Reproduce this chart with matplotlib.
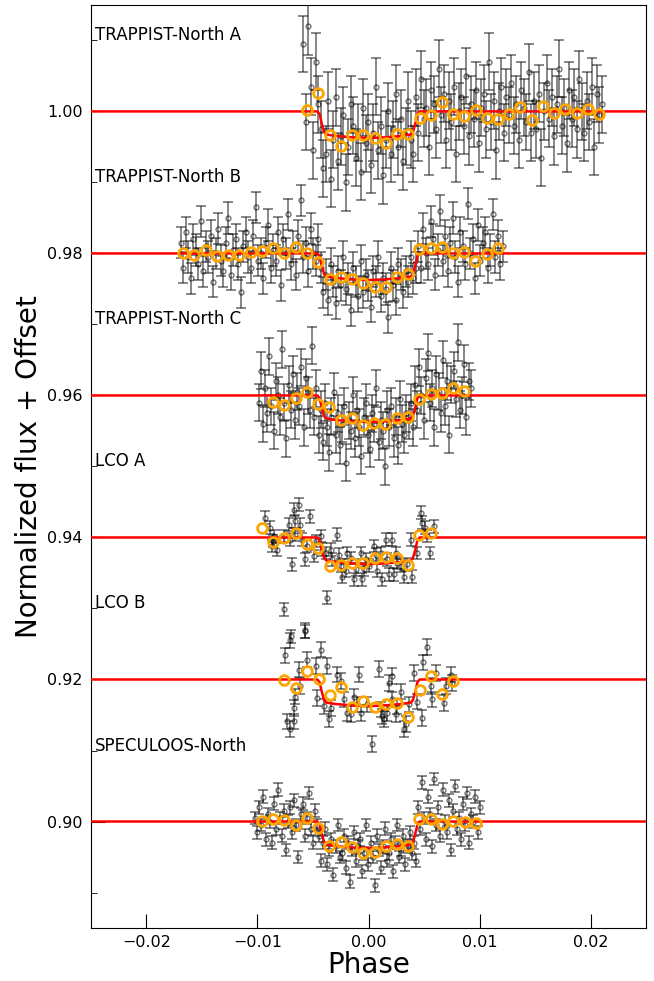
import numpy as np
import matplotlib.pyplot as plt
from matplotlib.ticker import MultipleLocator

# flux values are in ppt relative to each light curve's offset
offsets = [1.00, 0.98, 0.96, 0.94, 0.92, 0.90]
names = ["TRAPPIST-North A", "TRAPPIST-North B", "TRAPPIST-North C",
         "LCO A", "LCO B", "SPECULOOS-North"]

# --- raw photometry ---
tna_range = (-0.0059, 0.0210)
tna_flux = [9.5, -1.5, 12.0, 3.5, -5.5, 7.0, 1.0,
            -2.5, -8.0, -6.0, 1.5, -9.5, -4.0, 2.0, -7.0, -3.5, -0.5, -10.0, -5.0, 1.0, -2.0, -6.5, -3.0, -8.5,
            0.5, -4.5, -1.5, -7.5, -3.0, 3.5, -5.5, -2.0, -9.0, -4.0, 0.0, -6.0, -2.5, 2.5, -5.0, -1.0, -7.0,
            -3.5, 1.5, -4.0, -6.0,
            2.0, -3.0, 4.5, -1.0, 0.5, -5.0, 3.0, 1.0, -2.5, 6.0, -0.5, 2.5, -4.0, 1.5, -1.5, 3.5, -6.0, 0.0, 2.0, -2.0,
            5.0, -3.5, 1.0, -1.0, 3.0, -4.5, 0.5, 2.5, -2.5, 7.0, -1.5, 1.5, -5.5, 0.0, 3.5, -3.0, 2.0, -0.5, 4.0, -2.0,
            1.0, -4.0, 3.0, 0.5, -1.5, 5.5, -3.0, 1.5, -2.5, 2.5, -6.5, 0.0, 4.0, -1.0, 2.0, -3.5, 1.0, 6.0, -2.0, 0.5,
            -4.5, 3.0, -1.0, 2.0, -2.5, 4.5, 0.0, -3.0, 1.5, -1.5, 3.5, -5.0, 2.5, -0.5, 1.0]
tna_err = 4.0

tnb_range = (-0.0169, 0.0121)
tnb_flux = [1.5, -2.0, 3.0, -0.5, -3.5, 2.0, 0.5, -1.5, 4.5, -2.5, 1.0, -0.5, 2.5, -4.0, 0.0, 3.5, -1.0, -2.5, 1.5, 5.0,
            -3.0, 0.5, 2.0, -1.5, -5.5, 1.0, 3.0, -0.5, -2.0, 2.5, 6.5, -1.0, 0.0, -3.5, 1.5, 4.0, -2.0, 0.5, -1.0, 3.0,
            -4.5, 2.0, 0.0, 5.5, -1.5, 1.0, -3.0, 2.5, 7.5, -0.5, 1.5, -2.5, 3.5, 0.0, -1.0, 2.0,
            -2.0, -5.5, -3.0, -6.5, -1.5, -4.0, -7.0, -2.5, -4.5, -0.5, -5.0, -3.5, -8.0, -2.0, -4.0, -6.0, -1.0, -5.5,
            -3.0, -4.5, -7.5, -2.5, -4.0, -0.5, -6.0, -3.5, -5.0, -9.0, -2.0, -4.5, -6.5, -1.5, -3.0, -5.5, -2.5, -4.0,
            -0.5, -3.5, -2.0,
            1.0, -2.0, 3.5, 0.0, -1.5, 4.5, 2.0, -3.0, 0.5, 6.0, -1.0, 2.5, -2.5, 1.5, 5.0, -0.5, -4.0, 3.0, 1.0, -1.5,
            7.0, 0.0, 2.0, -3.5, 4.0, -1.0, 1.5, 3.0, -2.0, 0.5, 5.5, -0.5, 2.5, -1.5, 1.0]
tnb_err = 2.2

tnc_range = (-0.0099, 0.0092)
tnc_flux = [-1.0, 3.5, -4.0, 1.0, -2.5, 5.5, -1.5, -5.0, 2.0, 0.0, -3.0, 6.5, -1.0, -6.0, 1.5, -2.0, 3.0, -3.5, 0.5,
            -1.5, 4.0, -4.5, 2.5, 0.0, -2.0, 7.0, -3.0, 1.0, -5.5,
            -2.0, -6.5, -1.0, -4.5, -8.0, -3.0, 0.5, -5.5, -2.5, -7.0, -4.0, -1.5, -9.5, -3.5, -5.0, 0.0, -6.0, -2.0,
            -4.5, -8.5, -3.0, -1.0, -5.5, -7.5, -2.5, -4.0, 1.0, -6.5, -3.5, -5.0, -10.0, -2.0, -4.5, -1.5, -6.0, -3.0,
            -7.0, -0.5, -4.0, -5.5, -2.5, -3.5, -1.0, -4.5,
            1.5, -2.0, 4.0, 0.0, -3.5, 2.5, 6.0, -1.0, 1.0, -4.5, 3.0, 0.5, -2.5, 5.0, -1.5, 2.0, -5.5, 1.5, 3.5, -0.5,
            7.5, -2.0, 0.0, 4.5, -3.0, 2.0, 1.0]
tnc_err = 2.6

lcoa_phase = [-0.00928, -0.00883, -0.00868, -0.00859, -0.00853, -0.00823, -0.00763, -0.00763, -0.00718, -0.00703,
              -0.00697, -0.00688, -0.00673, -0.00658, -0.00658, -0.00628, -0.00613, -0.00598, -0.00568, -0.00568,
              -0.00553, -0.00523, -0.00493, -0.00477, -0.00432, -0.00417, -0.00387, -0.00378, -0.00342, -0.00327,
              -0.00282, -0.00267, -0.00252, -0.00237, -0.00207, -0.00192, -0.00162, -0.00132, -0.00117, -0.00072,
              -0.00057, -0.00042, -0.00027, 0.00003, 0.00048, 0.00063, 0.00078, 0.00108, 0.00123, 0.00153,
              0.00168, 0.00183, 0.00213, 0.00228, 0.00243, 0.00258, 0.00288, 0.00318, 0.00348, 0.00378,
              0.00393, 0.00438, 0.00468, 0.00483, 0.00513, 0.00528, 0.00558, 0.00588]
lcoa_flux = [2.8, 1.4, -1.2, -0.5, 0.2, -1.7, -10.1, 0.2, 1.8, -0.3,
             -13.9, -3.8, 3.9, 2.3, 0.4, 4.6, 1.8, -0.3, -13.2, -3.1,
             -1.2, 3.0, -2.6, -0.5, 0.2, -1.7, -2.2, -8.5, -1.7, -3.1,
             0.4, -2.4, -4.0, -5.5, -4.7, -2.2, -2.9, -5.9, -4.5, -2.2,
             -5.9, -4.5, -3.1, -4.0, -1.2, -2.4, -4.7, -2.2, -5.9, -0.3,
             -3.1, -5.2, -0.3, -5.2, -2.2, -3.6, -4.0, -5.5, -3.8, -0.3,
             -5.5, -2.2, 3.5, 2.1, 1.4, 0.2, -2.2, 1.6]
lcoa_err = 0.9

lcob_phase = [-0.00748, -0.00732, -0.00709, -0.00703, -0.00673, -0.00673, -0.00658, -0.00628, -0.00613, -0.00568,
              -0.00552, -0.00477, -0.00462, -0.00426, -0.00403, -0.00372, -0.00358, -0.00342, -0.00282, -0.00252,
              -0.00223, -0.00192, -0.00162, -0.00132, -0.00102, -0.00087, -0.00072, -0.00012, 0.00027, 0.00093,
              0.00108, 0.00123, 0.00138, 0.00168, 0.00183, 0.00214, 0.00214, 0.00243, 0.00258, 0.00288,
              0.00318, 0.00333, 0.00363, 0.00408, 0.00439, 0.00484, 0.00493, 0.00523, 0.00559, 0.00574,
              0.00604, 0.00678, 0.00694, 0.00739, 0.00754]
lcob_flux = [3.4, -5.9, -7.0, 5.5, -4.0, -5.9, -2.4, 1.4, -0.9, 6.9,
             2.8, 1.9, -2.6, 4.2, -3.8, 1.9, -5.6, -4.0, 0.7, -0.2,
             -2.8, -4.7, -4.9, -2.4, -3.5, 0.7, -4.7, -3.5, -9.1, 1.5,
             -4.2, -5.2, -5.6, -4.7, -0.5, 0.5, -2.8, -4.9, -3.8, -1.7,
             -7.0, -6.3, -3.5, 0.9, -3.1, -5.4, 2.4, 4.6, -0.9, -2.8,
             0.9, -3.3, -0.9, 0.7, -0.5]
lcob_err = 1.1

spec_range = (-0.0102, 0.0100)
spec_flux = [0.5, -1.5, 2.0, -0.5, 3.5, -2.5, 1.0, 0.0, -3.0, 2.5, -1.0, 4.5, 0.5, -2.0, 1.5, -4.0, 0.0, 2.0, -1.5,
             3.0, -0.5, -5.0, 1.0, 2.5, -2.0, 0.5, 4.0, -1.0, -3.0, 1.5, -0.5,
             -2.0, -5.5, -3.0, -1.0, -6.0, -4.0, -2.5, -7.5, -3.5, -0.5, -5.0, -4.5, -2.0, -6.5, -3.0, -8.5, -4.0,
             -1.5, -5.5, -3.5, -2.5, -7.0, -4.5, -0.5, -6.0, -3.0, -5.0, -9.0, -2.0, -4.0, -6.5, -3.5, -1.0, -5.5,
             -4.5, -2.5, -7.0, -3.0, -0.5, -5.0, -4.0, -2.0, -6.0, -3.5, -1.5, -4.5, -3.0, -5.5,
             2.0, -1.0, 5.5, 0.5, -2.5, 3.5, 1.0, -3.5, 6.0, -0.5, 2.0, -2.0, 4.5, 0.0, -1.5, 3.0, -4.0, 1.5, 5.0,
             -1.0, 0.5, -2.5, 2.5, -0.5, 4.0, -3.0, 1.0, 0.0, 3.5, -1.5, 2.0]
spec_err = 0.9

# --- binned points ---
tna_bin_phase = [-0.00552, -0.00453, -0.00351, -0.00252, -0.0015, -0.00048, 0.00054, 0.00153, 0.00255, 0.00358,
                 0.00459, 0.00559, 0.0066, 0.00759, 0.00862, 0.00964, 0.01063, 0.01165, 0.01268, 0.01367,
                 0.01468, 0.0157, 0.01669, 0.01772, 0.01874, 0.01973, 0.02075]
tna_bin_flux = [0.18, 2.63, -3.28, -4.93, -3.28, -3.28, -3.70, -4.51, -3.14, -3.14,
                -0.99, -0.56, 1.31, -0.38, -0.70, 0.18, -0.89, -1.03, -0.32, 0.61,
                -1.23, 0.75, -0.24, 0.28, -0.24, 0.28, -0.42]

tnb_bin_phase = [-0.0167, -0.01568, -0.01466, -0.01363, -0.01261, -0.01162, -0.0106, -0.00958, -0.00859, -0.00757,
                 -0.00655, -0.00556, -0.00457, -0.00349, -0.0025, -0.00147, -0.00048, 0.00054, 0.00153, 0.00259,
                 0.00358, 0.00457, 0.00559, 0.0066, 0.00763, 0.00859, 0.00961, 0.01063, 0.01165]
tnb_bin_flux = [0.10, -0.28, 0.42, -0.38, -0.28, -0.28, 0.18, 0.28, 0.75, 0.0,
                0.94, 0.10, -1.23, -3.66, -3.34, -3.56, -4.23, -4.69, -4.75, -3.38,
                -2.96, 0.56, 0.75, 0.85, 0.10, 0.18, -1.03, -0.04, 0.80]

tnc_bin_phase = [-0.00859, -0.00757, -0.00655, -0.00552, -0.00457, -0.00354, -0.00252, -0.0015, -0.00048,
                 0.00051, 0.0015, 0.00252, 0.00354, 0.00457, 0.00559, 0.00658, 0.00757, 0.00859]
tnc_bin_flux = [-0.89, -1.41, -0.42, 0.52, -1.17, -1.69, -3.48, -3.20, -4.23,
                -3.94, -3.99, -3.14, -3.00, -0.56, 0.24, 0.38, 1.08, 0.66]

lcoa_bin_phase = [-0.00961, -0.00859, -0.00757, -0.00655, -0.00552, -0.00453, -0.00351, -0.0025,
                  -0.00147, -0.00048, 0.00054, 0.00153, 0.00255, 0.00358, 0.00457, 0.00559]
lcoa_bin_flux = [1.27, -0.66, -0.04, 0.70, -0.85, -1.45, -4.04, -3.94,
                 -3.66, -3.56, -2.96, -2.72, -2.86, -3.90, 0.28, 0.66]

lcob_bin_phase = [-0.00757, -0.00655, -0.00552, -0.0045, -0.00349, -0.0025, -0.00147, -0.00048,
                  0.00054, 0.00156, 0.00255, 0.00358, 0.00459, 0.00559, 0.0066, 0.00763]
lcob_bin_flux = [-0.04, -1.22, 1.17, 0.10, -2.15, -1.03, -3.85, -3.00,
                 -3.85, -3.42, -3.38, -5.31, -1.45, 0.56, -2.11, -0.18]

spec_bin_phase = [-0.00961, -0.00859, -0.00757, -0.00655, -0.00552, -0.00457, -0.00354, -0.00252, -0.0015, -0.00048,
                  0.00054, 0.00156, 0.00255, 0.00358, 0.00457, 0.00559, 0.0066, 0.00763, 0.00865, 0.00967]
spec_bin_flux = [0.04, 0.38, 0.18, -0.56, 0.46, -0.89, -3.48, -2.86, -3.62, -4.41,
                 -4.23, -3.48, -3.10, -3.48, 0.38, 0.38, -0.28, 0.04, -0.10, -0.18]

# transit model (same shape for every light curve)
model_phase = [-0.025, -0.0046, -0.0044, -0.0042, -0.0040, -0.0038, -0.0030, -0.0015, 0.0,
               0.0015, 0.0030, 0.0038, 0.0040, 0.0042, 0.0044, 0.0046, 0.025]
model_flux = [0.0, 0.0, -0.4, -1.8, -2.9, -3.25, -3.45, -3.65, -3.75,
              -3.65, -3.45, -3.25, -2.9, -1.8, -0.4, 0.0, 0.0]

raw_phases = [np.linspace(*tna_range, len(tna_flux)), np.linspace(*tnb_range, len(tnb_flux)),
              np.linspace(*tnc_range, len(tnc_flux)), np.array(lcoa_phase), np.array(lcob_phase),
              np.linspace(*spec_range, len(spec_flux))]
raw_fluxes = [tna_flux, tnb_flux, tnc_flux, lcoa_flux, lcob_flux, spec_flux]
raw_errs = [tna_err, tnb_err, tnc_err, lcoa_err, lcob_err, spec_err]
bin_phases = [tna_bin_phase, tnb_bin_phase, tnc_bin_phase, lcoa_bin_phase, lcob_bin_phase, spec_bin_phase]
bin_fluxes = [tna_bin_flux, tnb_bin_flux, tnc_bin_flux, lcoa_bin_flux, lcob_bin_flux, spec_bin_flux]

fig = plt.figure(figsize=(6.54, 9.81), dpi=100)
ax = fig.add_axes([0.139, 0.054, 0.849, 0.941])

for i in range(len(offsets)):
    off = offsets[i]
    y = off + np.array(raw_fluxes[i]) * 1e-3
    ax.errorbar(raw_phases[i], y, yerr=raw_errs[i] * 1e-3, fmt='o', ms=3.5, mfc='none',
                mec='k', ecolor='k', elinewidth=1.2, capsize=3.5, capthick=1.2, alpha=0.55, zorder=1)
    ax.plot(model_phase, off + np.array(model_flux) * 1e-3, color='red', lw=1.8, zorder=3)
    ax.plot(bin_phases[i], off + np.array(bin_fluxes[i]) * 1e-3, 'o', mfc='none',
            mec='orange', mew=2, ms=7, zorder=4)
    ax.text(-0.0246, off + 0.01, names[i], fontsize=12, va='baseline')

ax.set_xlim(-0.025, 0.025)
ax.set_ylim(0.885, 1.015)
ax.xaxis.set_major_locator(MultipleLocator(0.01))
ax.yaxis.set_major_locator(MultipleLocator(0.02))
ax.yaxis.set_minor_locator(MultipleLocator(0.01))
ax.tick_params(which='major', direction='in', length=10, labelsize=11.5)
ax.tick_params(axis='x', pad=5)
ax.tick_params(axis='y', pad=6)
ax.tick_params(which='minor', direction='in', length=4)
ax.set_xlabel('Phase', fontsize=20, labelpad=1)
ax.set_ylabel('Normalized flux + Offset', fontsize=20, labelpad=3)

fig.savefig('out.png', dpi=100)
